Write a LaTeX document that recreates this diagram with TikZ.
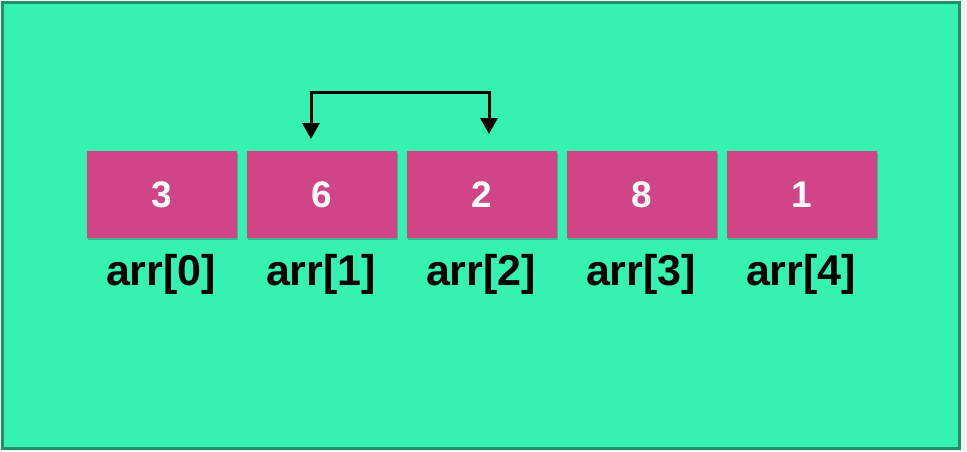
\documentclass[tikz,border=0pt]{standalone}
\usepackage{fontspec}
\setmainfont{Liberation Sans}
\usetikzlibrary{arrows.meta,shadows}
\definecolor{bggreen}{HTML}{36F2B0}
\definecolor{edgegreen}{HTML}{1F9068}
\definecolor{cellpink}{HTML}{D04585}
\tikzset{
  cell/.style={fill=cellpink, minimum width=150pt, minimum height=87pt, inner sep=0pt,
    font=\fontsize{37}{37}\selectfont\bfseries, text=white,
    drop shadow={shadow xshift=1pt, shadow yshift=-1.5pt, opacity=0.35, fill=black!70}},
  idx/.style={font=\fontsize{43}{43}\selectfont\bfseries, text=black, inner sep=0pt},
  swap/.style={line width=3pt, {Triangle[length=16pt,width=17pt]}-{Triangle[length=16pt,width=17pt]}}
}
\begin{document}
\begin{tikzpicture}[x=1pt,y=-1pt]
\useasboundingbox (0,0) rectangle (967,451);
\fill[white!95!black] (0,0) rectangle (967,451);
\draw[fill=bggreen, draw=edgegreen, line width=2.5pt] (2.5,2.5) rectangle (959.5,448.5);
\foreach \i/\v in {0/3,1/6,2/2,3/8,4/1}{
  \node[cell] (b\i) at (162+160*\i,194.5) {\v};
  \node[idx] (l\i) at (161+160*\i,274) {arr[\i]};
}
\coordinate (a1) at (311,139);
\coordinate (a2) at (489,134);
\coordinate (h) at (489,92);
\draw[swap] (a1) |- (h) -- (a2);
\end{tikzpicture}
\end{document}
